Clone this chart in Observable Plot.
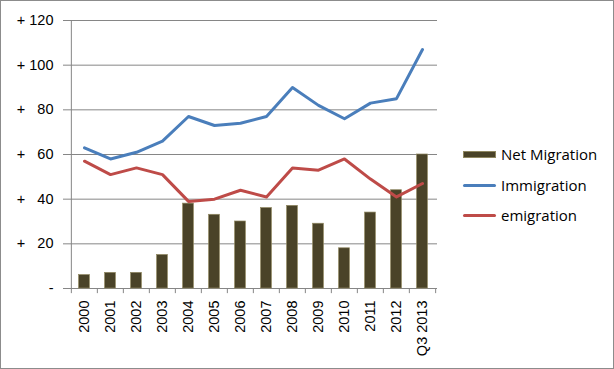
<!DOCTYPE html>
<html><head><meta charset="utf-8">
<script src="https://cdn.jsdelivr.net/npm/d3@7"></script>
<script src="https://cdn.jsdelivr.net/npm/@observablehq/plot@0.6"></script>
<style>
html,body{margin:0;padding:0;background:#fff;}
#wrap{position:relative;width:614px;height:369px;overflow:hidden;background:#fff;}
#frame{position:absolute;left:0;top:0;width:612px;height:367px;border:1px solid #8c8c8c;pointer-events:none;}
.leg{position:absolute;left:463px;height:20px;line-height:20px;font-family:"Open Sans",sans-serif;font-size:15px;color:#000;display:flex;align-items:center;white-space:nowrap;}
.sw{display:inline-block;width:33px;margin-right:5px;}
</style>
</head><body>
<div id="wrap"><div id="chart"></div>
<div class="leg" style="top:144px"><span class="sw" style="height:7px;background:#4a4328;border:0.5px solid #8f8760;box-sizing:border-box"></span>Net Migration</div>
<div class="leg" style="top:175px"><span class="sw" style="height:3px;border-radius:1.5px;background:#4a7ebb"></span>Immigration</div>
<div class="leg" style="top:205px"><span class="sw" style="height:3px;border-radius:1.5px;background:#be4b48"></span>emigration</div>
<div id="frame"></div>
</div>
<script>
const years = ["2000","2001","2002","2003","2004","2005","2006","2007","2008","2009","2010","2011","2012","Q3 2013"];
const netMigration = [6,7,7,15,38,33,30,36,37,29,18,34,44,60];
const immigration = [63,58,61,66,77,73,74,77,90,82,76,83,85,107];
const emigration = [57,51,54,51,39,40,44,41,54,53,58,49,41,47];
const yTicks = [0,20,40,60,80,100,120];

const rows = years.map((year,i)=>({year, net:netMigration[i], imm:immigration[i], emi:emigration[i]}));
const W=614,H=369,ML=69,MR=177,MT=20,MB=81;
const bw=(W-ML-MR)/years.length;
const grid="#868686";
const fmt = d => d===0 ? "-" : "+\u00a0" + (d<100 ? "\u00a0\u00a0" : "") + d;

const chart = Plot.plot({
  width:W,height:H,marginLeft:ML,marginRight:MR,marginTop:MT,marginBottom:MB,
  style:{fontFamily:"Liberation Sans, Arial, sans-serif",fontSize:"14.5px",background:"transparent",color:"#000"},
  x:{type:"band",domain:years,padding:0,label:null},
  y:{domain:[0,120],label:null},
  marks:[
    Plot.ruleY(yTicks,{stroke:grid,strokeWidth:1}),
    Plot.ruleX([years[0]],{y1:0,y2:120,dx:-bw/2,stroke:grid}),
    Plot.ruleX(years,{y1:0,y2:-2.3,dx:-bw/2,stroke:grid}),
    Plot.ruleX([years[years.length-1]],{y1:0,y2:-2.3,dx:bw/2,stroke:grid}),
    Plot.axisY({ticks:yTicks,tickSize:6,tickPadding:10,stroke:grid,fill:"#000",tickFormat:fmt,label:null}),
    Plot.axisX({tickSize:0,tickPadding:12,tickRotate:-90,fill:"#000",label:null}),
    Plot.barY(rows,{x:"year",y:"net",fill:"#4a4328",stroke:"#8f8760",strokeWidth:0.7,insetLeft:(bw-11)/2,insetRight:(bw-11)/2}),
    Plot.line(rows,{x:"year",y:"imm",stroke:"#4a7ebb",strokeWidth:3}),
    Plot.line(rows,{x:"year",y:"emi",stroke:"#be4b48",strokeWidth:3})
  ]
});
document.getElementById("chart").appendChild(chart);
</script>
</body></html>
